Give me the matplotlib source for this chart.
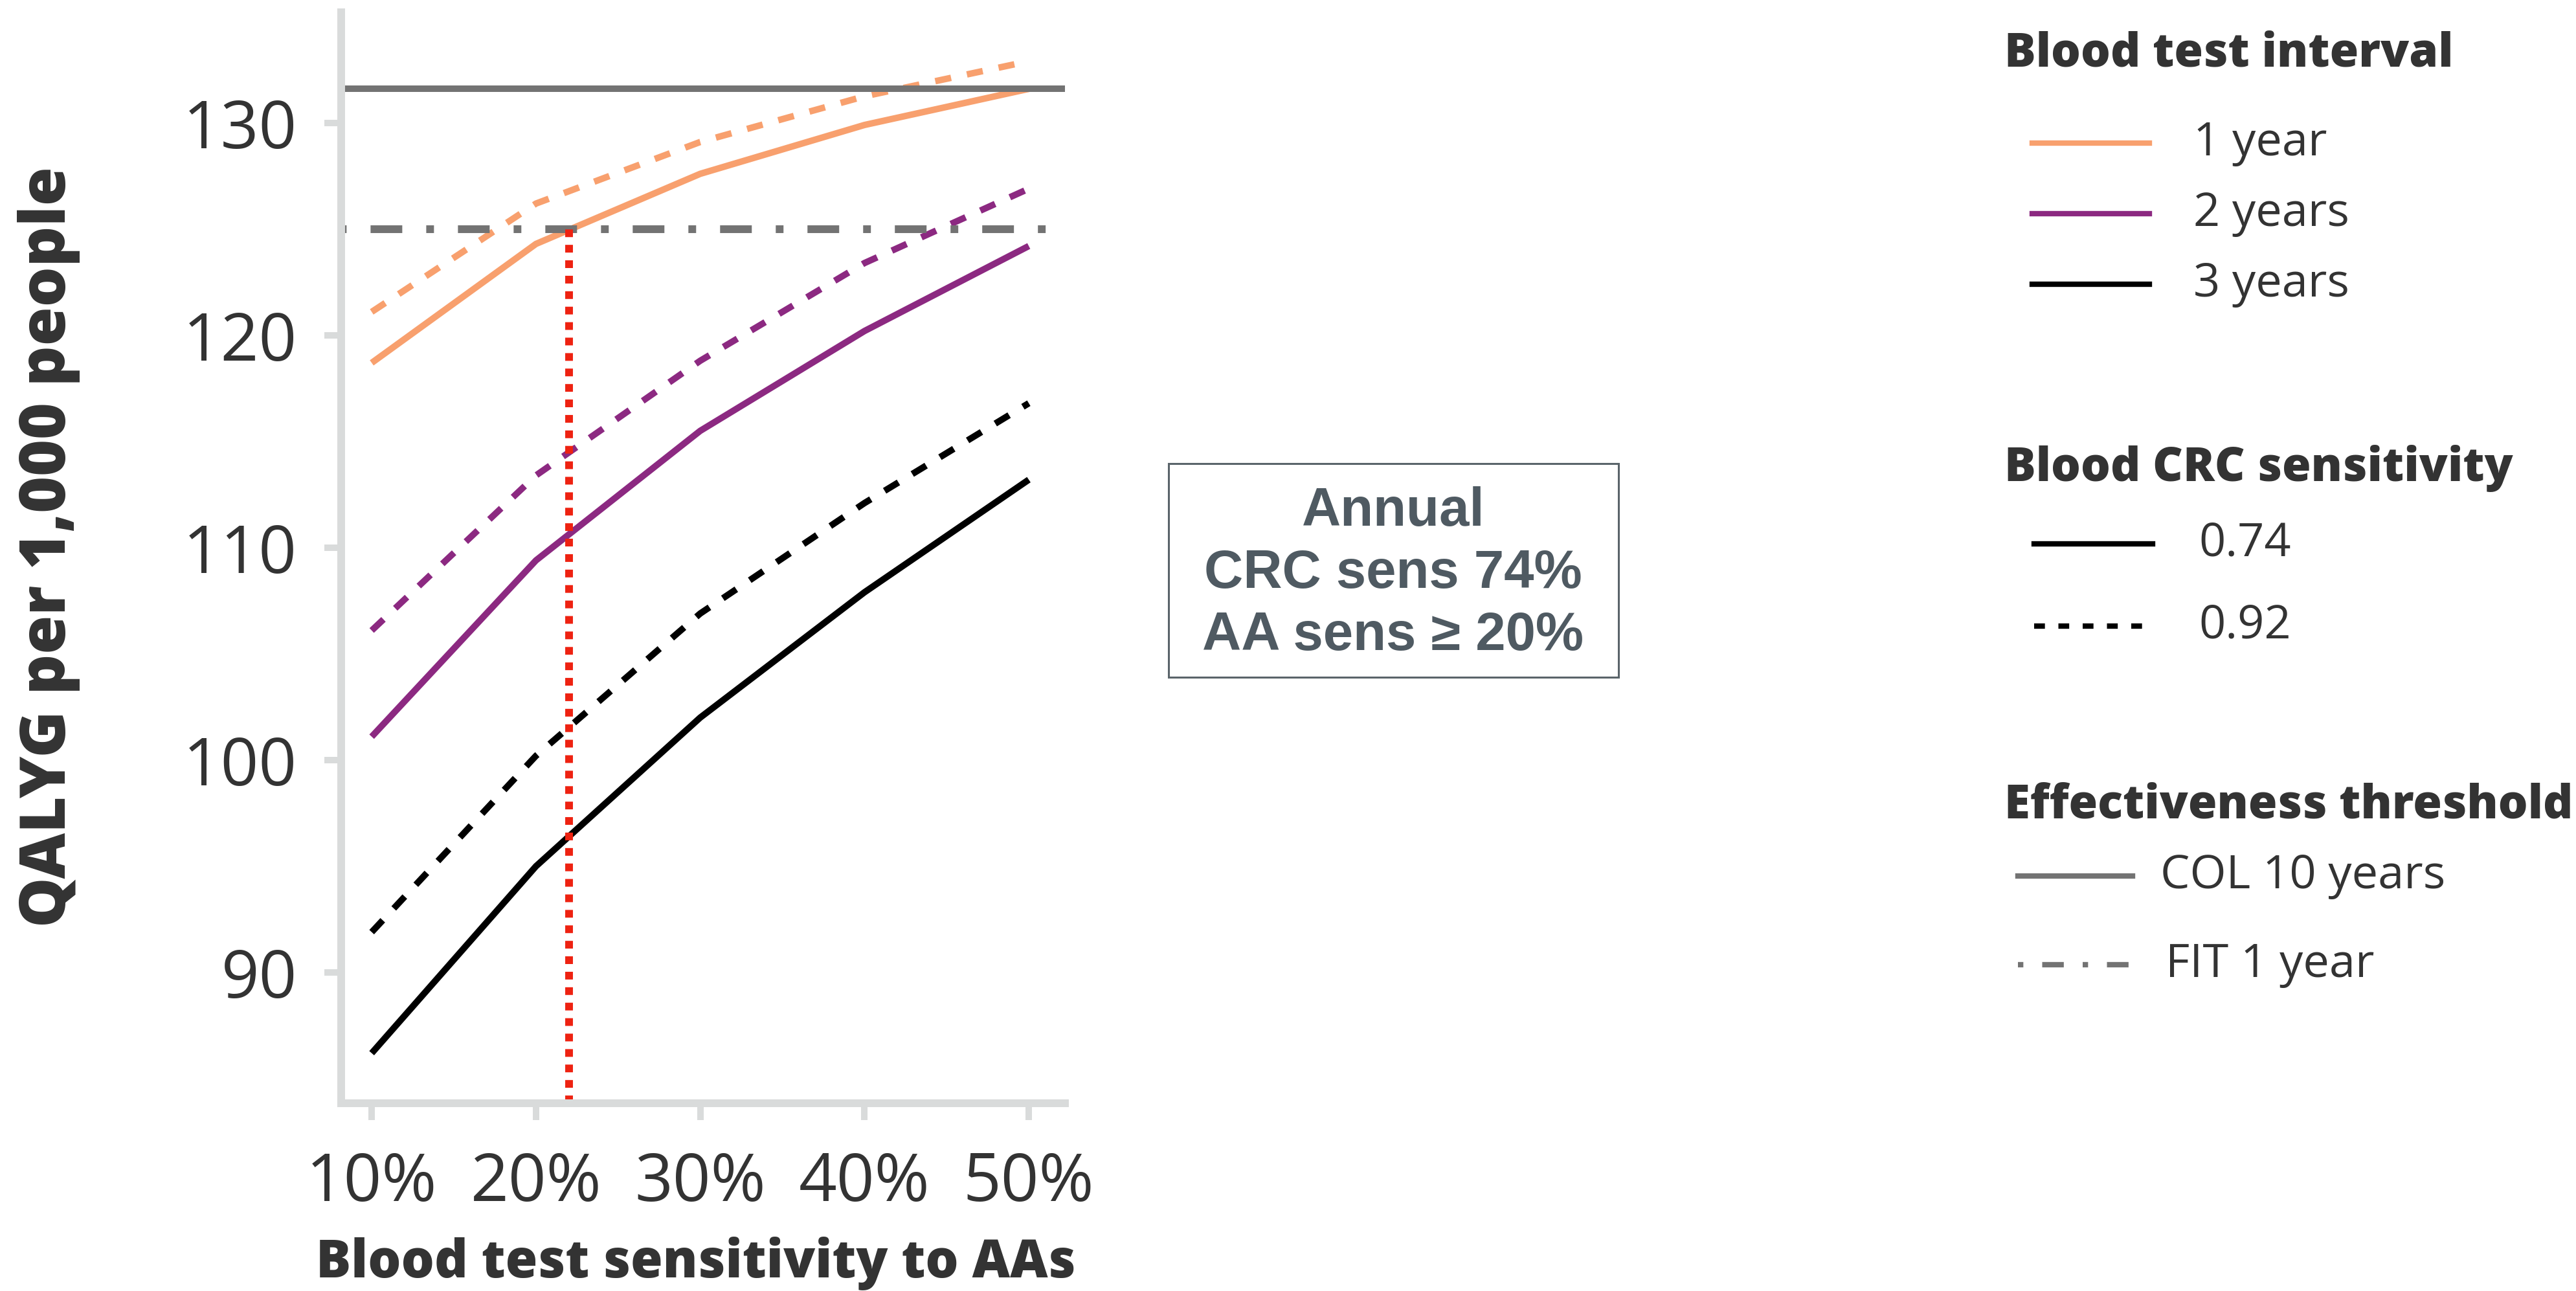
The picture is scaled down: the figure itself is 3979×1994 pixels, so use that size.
import matplotlib
matplotlib.use("Agg")
import matplotlib.pyplot as plt
from matplotlib.lines import Line2D
from matplotlib.patches import Rectangle

# data
aa_sens = [10, 20, 30, 40, 50]
crc074_1y = [118.7, 124.3, 127.6, 129.9, 131.6]
crc092_1y = [121.1, 126.2, 129.1, 131.25, 132.9]
crc074_2y = [101.1, 109.4, 115.5, 120.2, 124.2]
crc092_2y = [106.1, 113.4, 118.8, 123.4, 126.9]
crc074_3y = [86.2, 95.0, 102.0, 107.9, 113.2]
crc092_3y = [91.9, 100.2, 106.9, 112.1, 116.8]
col_10y = 131.6
fit_1y = 125.0
aa_cutoff = 22

yticks = [90, 100, 110, 120, 130]
xticklabels = ["10%", "20%", "30%", "40%", "50%"]

orange = "#f8a06e"
purple = "#8c2981"
black = "#000000"
gray = "#737373"
txt = "#333333"

plt.rcParams["font.family"] = ["Open Sans", "DejaVu Sans"]

fig = plt.figure(figsize=(19.9, 9.97), dpi=200)
ax = fig.add_axes([0.1324, 0.1454, 0.2809, 0.8450])

lw = 3.6
series = [(crc074_1y, crc092_1y, orange), (crc074_2y, crc092_2y, purple),
          (crc074_3y, crc092_3y, black)]
for solid, dashed, c in series:
    ax.plot(aa_sens, solid, color=c, lw=lw, solid_capstyle="butt")
    ax.plot(aa_sens, dashed, color=c, lw=lw, linestyle=(0, (2.5, 2.5)))

ax.axhline(col_10y, color=gray, lw=3.6)
ax.axhline(fit_1y, color=gray, lw=4.3, linestyle=(7.5, (4.1, 3.1, 1, 3.1)))
ax.plot([aa_cutoff, aa_cutoff], [83.84, fit_1y], color="#ee2211", lw=4.3,
        linestyle=(0, (1, 1)), dash_capstyle="butt")

ax.set_xlim(8.14, 52.2)
ax.set_ylim(83.84, 135.2)
ax.set_xticks(aa_sens)
ax.set_xticklabels(xticklabels)
ax.set_yticks(yticks)

for s in ["top", "right"]:
    ax.spines[s].set_visible(False)
for s in ["left", "bottom"]:
    ax.spines[s].set_color("#d9dbdb")
    ax.spines[s].set_linewidth(4.3)
ax.tick_params(axis="both", colors="#d9dbdb", length=9.4, width=3.6,
               labelsize=37, labelcolor=txt)
ax.tick_params(axis="y", pad=15)
ax.tick_params(axis="x", pad=17)

ax.set_ylabel("QALYG per 1,000 people", fontsize=35, fontweight="heavy", color=txt)
ax.yaxis.set_label_coords(-0.36, 0.51)
ax.set_xlabel("Blood test sensitivity to AAs", fontsize=29, fontweight="heavy", color=txt)
ax.xaxis.set_label_coords(0.49, -0.122)

# annotation box
fig.patches.append(Rectangle((0.4535, 0.4754), 0.1746, 0.1655, transform=fig.transFigure,
                             fill=False, edgecolor="#5a646a", lw=1.1))
fig.text(0.5407, 0.5557, "Annual\nCRC sens 74%\nAA sens \u2265 20%", ha="center", va="center",
         fontsize=30, fontweight="bold", color="#4f5a62", family="Liberation Sans",
         linespacing=1.3)

# legend, drawn by hand
def title(y, s):
    fig.text(0.778, y, s, fontsize=26, fontweight="heavy", color=txt, ha="left", va="center")

def item(x0, x1, y, tx, s, **kw):
    fig.add_artist(Line2D([x0, x1], [y, y], transform=fig.transFigure, **kw))
    fig.text(tx, y, s, fontsize=26, color=txt, ha="left", va="center")

title(0.958, "Blood test interval")
item(0.7887, 0.8342, 0.8892, 0.8513, "1 year", color=orange, lw=3)
item(0.7887, 0.8342, 0.8345, 0.8513, "2 years", color=purple, lw=3)
item(0.7887, 0.8342, 0.7798, 0.8513, "3 years", color=black, lw=3)

title(0.6374, "Blood CRC sensitivity")
item(0.7894, 0.8354, 0.5787, 0.8533, "0.74", color=black, lw=3)
item(0.7894, 0.8354, 0.5150, 0.8533, "0.92", color=black, lw=3, linestyle=(0, (2, 2.5)))

title(0.3761, "Effectiveness threshold")
item(0.7832, 0.8276, 0.3215, 0.8384, "COL 10 years", color=gray, lw=3)
item(0.7832, 0.8276, 0.2528, 0.8405, "FIT 1 year", color=gray, lw=3,
     linestyle=(0, (1, 3.5, 4, 3.5)))

fig.savefig("out.png", dpi=200)
